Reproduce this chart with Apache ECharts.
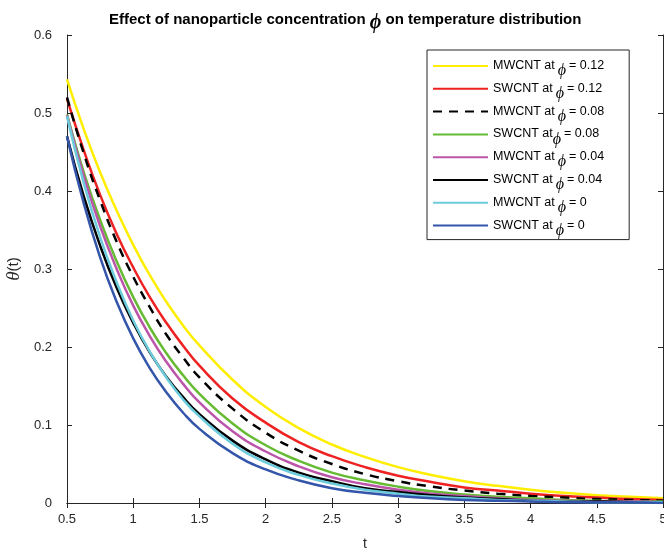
<!DOCTYPE html>
<html>
<head>
<meta charset="utf-8">
<script src="https://cdn.jsdelivr.net/npm/echarts@6/dist/echarts.min.js"></script>
<style>
  html, body { margin: 0; padding: 0; background: #ffffff; }
  #chart { width: 664px; height: 551px; }
</style>
</head>
<body>
<div id="chart"></div>
<script>
// Time samples (t) shared by every curve
const tValues = [0.5, 0.625, 0.75, 0.875, 1, 1.125, 1.25, 1.375, 1.5, 1.75, 2, 2.25, 2.5, 2.75, 3, 3.25, 3.5, 3.75, 4, 4.25, 4.5, 4.75, 5];

// Temperature theta(t) for each nanotube type and concentration
const mwcnt012 = [0.543, 0.480, 0.424, 0.375, 0.331, 0.292, 0.258, 0.228, 0.202, 0.158, 0.123, 0.096, 0.075, 0.059, 0.046, 0.036, 0.028, 0.022, 0.017, 0.013, 0.010, 0.008, 0.006];
const swcnt012 = [0.518, 0.453, 0.395, 0.345, 0.302, 0.264, 0.231, 0.202, 0.176, 0.134, 0.103, 0.078, 0.060, 0.046, 0.035, 0.027, 0.020, 0.016, 0.012, 0.009, 0.007, 0.005, 0.004];
const mwcnt008 = [0.520, 0.449, 0.388, 0.335, 0.290, 0.251, 0.216, 0.187, 0.161, 0.121, 0.090, 0.067, 0.050, 0.037, 0.028, 0.021, 0.016, 0.012, 0.009, 0.007, 0.005, 0.004, 0.003];
const swcnt008 = [0.498, 0.425, 0.363, 0.310, 0.264, 0.225, 0.192, 0.164, 0.140, 0.102, 0.074, 0.054, 0.039, 0.029, 0.021, 0.015, 0.011, 0.008, 0.006, 0.004, 0.003, 0.002, 0.002];
const mwcnt004 = [0.497, 0.420, 0.355, 0.300, 0.253, 0.214, 0.181, 0.153, 0.129, 0.092, 0.066, 0.047, 0.033, 0.024, 0.017, 0.012, 0.009, 0.006, 0.004, 0.003, 0.002, 0.002, 0.001];
const swcnt004 = [0.470, 0.394, 0.330, 0.276, 0.231, 0.193, 0.162, 0.136, 0.114, 0.080, 0.056, 0.039, 0.028, 0.019, 0.014, 0.010, 0.007, 0.005, 0.003, 0.002, 0.002, 0.001, 0.001];
const mwcnt000 = [0.496, 0.411, 0.341, 0.283, 0.234, 0.194, 0.161, 0.133, 0.111, 0.076, 0.052, 0.036, 0.025, 0.017, 0.012, 0.008, 0.006, 0.004, 0.003, 0.002, 0.001, 0.001, 0.001];
const swcnt000 = [0.470, 0.385, 0.315, 0.258, 0.211, 0.173, 0.142, 0.116, 0.095, 0.064, 0.043, 0.029, 0.019, 0.013, 0.009, 0.006, 0.004, 0.003, 0.002, 0.001, 0.001, 0.001, 0.000];

// Legend wording
const materials = ['MWCNT at', 'SWCNT at', 'MWCNT at', 'SWCNT at', 'MWCNT at', 'SWCNT at', 'MWCNT at', 'SWCNT at'];
const phiLabels = ['0.12', '0.12', '0.08', '0.08', '0.04', '0.04', '0', '0'];
const seriesValues = [mwcnt012, swcnt012, mwcnt008, swcnt008, mwcnt004, swcnt004, mwcnt000, swcnt000];

// Axis ticks
const xMin = 0.5, xMax = 5, xStep = 0.5;
const yMin = 0, yMax = 0.6, yStep = 0.1;

const colors = ['#ffee00', '#ee2222', '#000000', '#66bb33', '#bb55aa', '#000000', '#6cccdc', '#3355aa'];
const dashes = ['solid', 'solid', [9, 7], 'solid', 'solid', 'solid', 'solid', 'solid'];
// gap drawn before the phi glyph in each legend entry (one entry has none)
const phiGap = [3, 3, 3, 0, 3, 3, 3, 3];

const PHI = '\u03D5';
const axisColor = '#262626';
const sans = 'Liberation Sans, Arial, Helvetica, sans-serif';
const serif = 'Liberation Serif, DejaVu Serif, Times New Roman, serif';

const names = materials.map((m, i) => m + ' phi = ' + phiLabels[i]);

const series = seriesValues.map((vals, i) => ({
  name: names[i],
  type: 'line',
  data: tValues.map((t, k) => [t, vals[k]]),
  symbol: 'none',
  showSymbol: false,
  smooth: true,
  lineStyle: { color: colors[i], width: 2.5, type: dashes[i] },
  itemStyle: { color: colors[i] },
  xAxisIndex: 0,
  yAxisIndex: 0
}));

const baseX = {
  type: 'value', min: xMin, max: xMax, interval: xStep,
  axisLine: { lineStyle: { color: axisColor, width: 1 } },
  axisTick: { inside: true, length: 5, lineStyle: { color: axisColor } },
  splitLine: { show: false }
};
const baseY = {
  type: 'value', min: yMin, max: yMax, interval: yStep,
  axisLine: { show: true, lineStyle: { color: axisColor, width: 1 } },
  axisTick: { show: true, inside: true, length: 5, lineStyle: { color: axisColor } },
  splitLine: { show: false }
};

const legendRich = {
  t: { fontFamily: sans, fontSize: 12.5, color: '#000000', lineHeight: 14, verticalAlign: 'top' }
};
phiGap.forEach((g, i) => {
  legendRich['p' + i] = { fontFamily: serif, fontStyle: 'italic', fontSize: 16, color: '#000000', lineHeight: 14, padding: [4, 3, 0, g], verticalAlign: 'top' };
});

const chart = echarts.init(document.getElementById('chart'), null, { renderer: 'canvas' });
chart.setOption({
  animation: false,
  backgroundColor: '#ffffff',
  title: {
    text: '{b|Effect of nanoparticle concentration }{p|' + PHI + '}{b| on temperature distribution}',
    left: 104,
    top: 7,
    textStyle: {
      rich: {
        b: { fontFamily: sans, fontWeight: 'bold', fontSize: 15, color: '#000000', lineHeight: 18, verticalAlign: 'top' },
        p: { fontFamily: serif, fontStyle: 'italic', fontSize: 20, color: '#000000', lineHeight: 18, padding: [1, 0, 0, 0], verticalAlign: 'top' }
      }
    }
  },
  grid: { left: 67, right: 1, top: 35, bottom: 48, containLabel: false, outerBoundsMode: 'none' },
  xAxis: [
    Object.assign({}, baseX, {
      position: 'bottom',
      axisLabel: { color: axisColor, fontFamily: sans, fontSize: 13, margin: 10, showMaxLabel: true, showMinLabel: true },
      name: 't',
      nameLocation: 'middle',
      nameGap: 34,
      nameTextStyle: { color: axisColor, fontFamily: sans, fontSize: 14, verticalAlign: 'top' }
    }),
    Object.assign({}, baseX, { position: 'top', axisLabel: { show: false } })
  ],
  yAxis: [
    Object.assign({}, baseY, {
      position: 'left',
      axisLabel: { color: axisColor, fontFamily: sans, fontSize: 13, margin: 15 },
      name: '{i|\u03B8}{n|(t)}',
      nameLocation: 'middle',
      nameRotate: 90,
      nameGap: 43,
      nameTextStyle: {
        rich: {
          i: { fontFamily: serif, fontStyle: 'italic', fontSize: 19, color: axisColor },
          n: { fontFamily: sans, fontSize: 15, color: axisColor }
        }
      }
    }),
    Object.assign({}, baseY, { position: 'right', axisLabel: { show: false } })
  ],
  legend: {
    show: true,
    orient: 'vertical',
    left: 427,
    top: 50,
    padding: [9, 25, 1, 5],
    itemWidth: 55,
    itemHeight: 14,
    itemGap: 2.8,
    backgroundColor: '#ffffff',
    borderColor: '#262626',
    borderWidth: 1,
    itemStyle: { opacity: 0, borderWidth: 0 },
    data: names,
    formatter: function (name) {
      const i = names.indexOf(name);
      return '{t|' + materials[i] + '}{p' + i + '|' + PHI + '}{t|= ' + phiLabels[i] + '}';
    },
    textStyle: { rich: legendRich }
  },
  series: series
});
</script>
</body>
</html>
